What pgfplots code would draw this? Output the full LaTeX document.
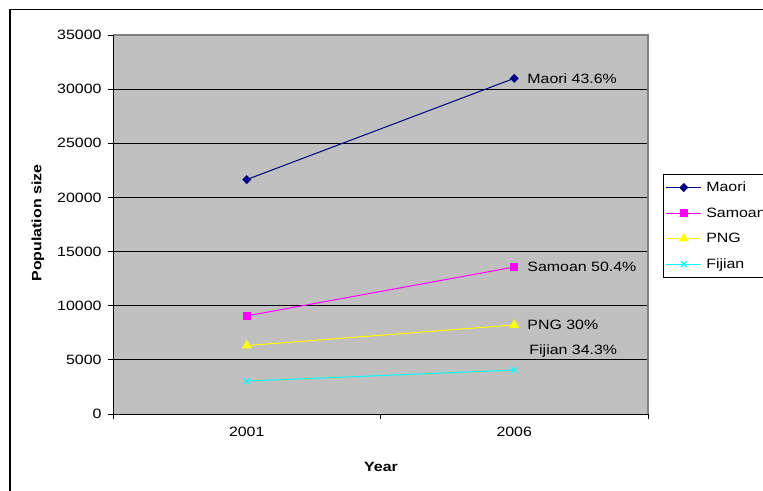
\documentclass[border=0pt]{standalone}
\usepackage{pgfplots}
\pgfplotsset{compat=1.18}
\usepackage{fontspec}
\setmainfont{Liberation Sans}[FakeStretch=1.18]
\definecolor{plotgray}{HTML}{C0C0C0}
\definecolor{bordergray}{HTML}{808080}
\definecolor{maori}{HTML}{000080}
\definecolor{samoan}{HTML}{FF00FF}
\definecolor{png}{HTML}{FFFF00}
\definecolor{fijian}{HTML}{00FFFF}
\newcommand{\f}{\fontsize{13.5bp}{16bp}\selectfont}
\begin{document}
\begin{tikzpicture}
\useasboundingbox (0,0) rectangle (763bp,-491bp);
\fill[white] (0,0) rectangle (763bp,-491bp);
\draw[line width=1.6bp] (9.8bp,-9.3bp) rectangle (800bp,-530bp);
\begin{axis}[
  at={(113bp,-414bp)}, anchor=south west,
  scale only axis, width=535bp, height=379bp,
  xmin=0, xmax=2, ymin=0, ymax=35000,
  axis background/.style={fill=plotgray},
  axis line style={draw=none},
  xtick={0,1,2}, xticklabels={2001,2006}, x tick label as interval,
  ytick={0,5000,...,35000},
  scaled y ticks=false,
  xtick pos=bottom, ytick pos=left,
  ymajorgrids, grid style={black, line width=0.8bp},
  tick align=outside, major tick length=5bp,
  tick style={black, line width=0.8bp},
  /pgf/number format/assume math mode=true,
  /pgf/number format/1000 sep={},
  tick label style={font=\f},
  yticklabel style={xshift=-3bp},
  xticklabel style={yshift=-5bp},
  clip=false,
  legend style={at={(1.028,0.633)}, anchor=north west, draw=black, fill=white,
    font=\f, line width=0.6bp, row sep=11.5bp, column sep=3bp, inner xsep=2.5bp, inner ysep=6bp,
    nodes={inner sep=1.5bp}},
  legend cell align=left,
  legend image code/.code={\draw[mark repeat=2,mark phase=2,#1] plot coordinates {(0bp,0bp) (17.5bp,0bp) (35bp,0bp)};},
]
\addplot[maori, line width=1bp, mark=square*, mark size=2.7bp, mark options={rotate=45}] coordinates {(0.5,21650) (1.5,31000)};
\addlegendentry{Maori}
\addplot[samoan, line width=1bp, mark=square*, mark size=3.5bp] coordinates {(0.5,9060) (1.5,13570)};
\addlegendentry{Samoan}
\addplot[png, line width=1bp, mark=triangle*, mark size=4.8bp] coordinates {(0.5,6320) (1.5,8220)};
\addlegendentry{PNG}
\addplot[fijian, line width=1bp, mark=x, mark size=4.2bp] coordinates {(0.5,3040) (1.5,4060)};
\addlegendentry{Fijian}
\node[anchor=west, font=\f, inner sep=2bp, xshift=11bp] at (axis cs:1.5,31000) {Maori 43.6\%};
\node[anchor=west, font=\f, inner sep=2bp, xshift=11bp] at (axis cs:1.5,13570) {Samoan 50.4\%};
\node[anchor=west, font=\f, inner sep=2bp, xshift=11bp] at (axis cs:1.5,8220) {PNG 30\%};
\node[anchor=west, font=\f, inner sep=2bp, xshift=13bp, yshift=19bp] at (axis cs:1.5,4060) {Fijian 34.3\%};
\draw[bordergray, line width=1.2bp] (rel axis cs:0,1) -- (rel axis cs:1,1) -- (rel axis cs:1,0);
\draw[black, line width=1bp] (rel axis cs:0,1) -- (rel axis cs:0,0) -- (rel axis cs:1,0);
\end{axis}
\node[rotate=90, font=\f\bfseries] at (38bp,-223bp) {Population size};
\node[font=\f\bfseries] at (381bp,-467bp) {Year};
\end{tikzpicture}
\end{document}
